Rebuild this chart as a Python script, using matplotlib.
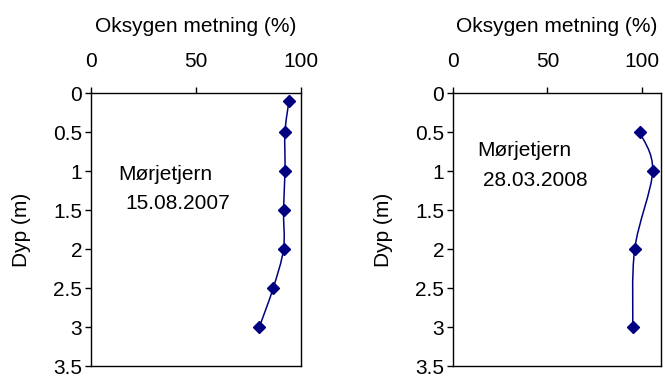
import numpy as np
import matplotlib.pyplot as plt
from matplotlib.path import Path
from matplotlib.patches import PathPatch

plt.rcParams['font.family'] = ['Liberation Sans', 'DejaVu Sans']

# data
dyp_2007 = [0.1, 0.5, 1.0, 1.5, 2.0, 2.5, 3.0]
oks_2007 = [94.3, 92.4, 92.4, 91.7, 91.7, 86.8, 80.2]
dyp_2008 = [0.5, 1.0, 2.0, 3.0]
oks_2008 = [98.7, 105.6, 96.1, 95.1]

farge = '#000080'
fs = 15


# glatt linje som i excel (catmull-rom -> bezier)
def glatt(ax, x, y):
    p = np.column_stack([x, y])
    verts = [p[0]]
    codes = [Path.MOVETO]
    for i in range(len(p) - 1):
        p0 = p[i - 1] if i > 0 else p[i]
        p3 = p[i + 2] if i + 2 < len(p) else p[i + 1]
        c1 = p[i] + (p[i + 1] - p0) / 6.0
        c2 = p[i + 1] - (p3 - p[i]) / 6.0
        verts += [c1, c2, p[i + 1]]
        codes += [Path.CURVE4] * 3
    ax.add_patch(PathPatch(Path(verts, codes), fill=False, edgecolor=farge, lw=1.1))


def panel(rect, x, y, xmax, navn, dato, pos1, pos2):
    ax = fig.add_axes(rect)
    glatt(ax, x, y)
    ax.plot(x, y, ls='none', marker='D', ms=6, color=farge)
    ax.set_xlim(0, xmax)
    ax.set_ylim(3.5, 0)
    ax.set_xticks([0, 50, 100])
    ax.set_yticks(np.arange(0, 3.51, 0.5))
    ax.set_yticklabels(['0', '0.5', '1', '1.5', '2', '2.5', '3', '3.5'])
    ax.xaxis.tick_top()
    ax.xaxis.set_label_position('top')
    ax.tick_params(direction='out', length=4, width=1, labelsize=fs, pad=11.5)
    ax.tick_params(axis='y', pad=2)
    ax.set_xlabel('Oksygen metning (%)', fontsize=fs, labelpad=15)
    ax.set_ylabel('Dyp (m)', fontsize=fs, labelpad=16)
    for s in ax.spines.values():
        s.set_linewidth(1)
    ax.text(pos1[0], pos1[1], navn, fontsize=fs, transform=ax.transAxes, va='center')
    ax.text(pos2[0], pos2[1], dato, fontsize=fs, transform=ax.transAxes, va='center')
    return ax


fig = plt.figure(figsize=(6.65, 3.79), dpi=100)
panel([0.1364, 0.0343, 0.3162, 0.7203], oks_2007, dyp_2007, 100,
      'Mørjetjern', '15.08.2007', (0.13, 0.70), (0.163, 0.597))
panel([0.6807, 0.0343, 0.3133, 0.7203], oks_2008, dyp_2008, 110,
      'Mørjetjern', '28.03.2008', (0.117, 0.788), (0.145, 0.681))

fig.savefig('out.png', dpi=100)
